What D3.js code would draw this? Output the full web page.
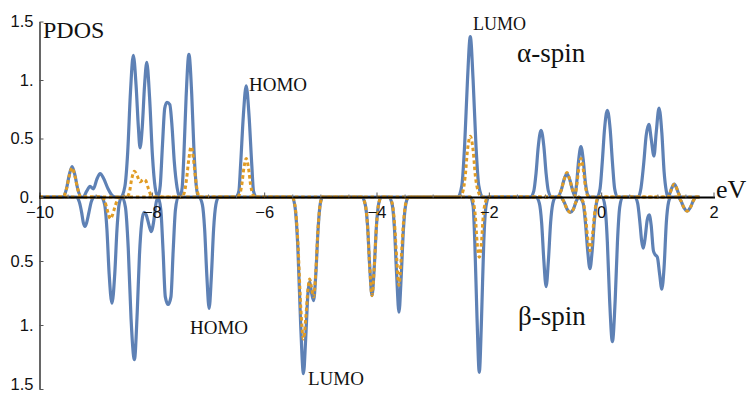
<!DOCTYPE html>
<html><head><meta charset="utf-8">
<script src="https://cdn.jsdelivr.net/npm/d3@7"></script>
<style>body{margin:0;background:#fff}svg{display:block}</style>
</head><body><svg id="c" width="747" height="396"></svg>
<script>
// energies (eV) vs PDOS
const alphaTotal = [[-10,0],[-9.62,0],[-9.58,0],[-9.52,0.07],[-9.47,0.19],[-9.42,0.26],[-9.37,0.19],[-9.32,0.07],[-9.26,0],
[-9.22,0],[-9.16,0.05],[-9.10,0.09],[-9.04,0.07],[-8.98,0.15],[-8.92,0.2],[-8.86,0.16],[-8.78,0.07],[-8.70,0.01],[-8.64,0],
[-8.55,0],[-8.48,0.09],[-8.43,0.38],[-8.38,0.9],[-8.33,1.21],[-8.28,0.95],[-8.24,0.6],[-8.21,0.42],[-8.17,0.6],[-8.13,0.95],[-8.09,1.15],[-8.04,0.85],[-7.99,0.36],[-7.94,0.08],[-7.89,0],
[-7.85,0.1],[-7.81,0.45],[-7.77,0.76],[-7.73,0.81],[-7.68,0.79],[-7.64,0.6],[-7.60,0.3],[-7.55,0.08],[-7.50,0],
[-7.46,0.08],[-7.43,0.35],[-7.39,0.85],[-7.34,1.22],[-7.29,0.88],[-7.25,0.4],[-7.21,0.1],[-7.17,0],
[-6.50,0],[-6.45,0.05],[-6.42,0.27],[-6.37,0.7],[-6.32,0.95],[-6.27,0.7],[-6.22,0.27],[-6.19,0.05],[-6.14,0],
[-2.55,0],[-2.48,0.1],[-2.43,0.45],[-2.38,1.0],[-2.33,1.37],[-2.28,1.0],[-2.23,0.45],[-2.18,0.1],[-2.11,0],
[-1.26,0],[-1.20,0.05],[-1.16,0.2],[-1.12,0.43],[-1.07,0.57],[-1.02,0.43],[-0.98,0.2],[-0.94,0.05],[-0.88,0],
[-0.78,0],[-0.71,0.06],[-0.66,0.15],[-0.61,0.2],[-0.56,0.15],[-0.51,0.06],[-0.47,0.01],
[-0.44,0.1],[-0.40,0.32],[-0.36,0.43],[-0.32,0.32],[-0.28,0.12],[-0.24,0.02],[-0.20,0],
[-0.07,0],[-0.02,0.07],[0.02,0.3],[0.06,0.58],[0.11,0.74],[0.16,0.58],[0.20,0.3],[0.24,0.07],[0.29,0],
[0.66,0],[0.71,0.08],[0.76,0.3],[0.80,0.52],[0.85,0.62],[0.89,0.5],[0.94,0.35],[0.98,0.55],[1.03,0.76],[1.08,0.55],[1.12,0.22],[1.16,0.05],[1.19,0],
[1.23,0.04],[1.26,0.08],[1.30,0.11],[1.34,0.08],[1.37,0.04],[1.42,0],[1.75,0]];

const alphaPartial = [[-10,0],[-9.62,0],[-9.58,0],[-9.52,0.07],[-9.47,0.18],[-9.42,0.25],[-9.37,0.18],[-9.32,0.07],[-9.26,0],
[-8.45,0],[-8.40,0.04],[-8.36,0.15],[-8.31,0.22],[-8.26,0.18],[-8.21,0.13],[-8.15,0.15],[-8.11,0.14],[-8.06,0.07],[-8.01,0.01],[-7.97,0],
[-7.47,0],[-7.42,0.04],[-7.38,0.16],[-7.34,0.33],[-7.30,0.43],[-7.26,0.33],[-7.22,0.15],[-7.18,0.03],[-7.14,0],
[-6.48,0],[-6.43,0.03],[-6.40,0.1],[-6.36,0.25],[-6.32,0.33],[-6.28,0.25],[-6.24,0.1],[-6.20,0.02],[-6.16,0],
[-2.52,0],[-2.46,0.05],[-2.42,0.18],[-2.38,0.4],[-2.33,0.52],[-2.28,0.4],[-2.24,0.18],[-2.19,0.05],[-2.13,0],
[-0.78,0],[-0.71,0.06],[-0.66,0.15],[-0.61,0.21],[-0.56,0.15],[-0.51,0.06],[-0.47,0.01],
[-0.44,0.08],[-0.40,0.24],[-0.36,0.33],[-0.32,0.24],[-0.28,0.09],[-0.24,0.01],[-0.20,0],
[1.19,0],[1.23,0.04],[1.26,0.08],[1.30,0.11],[1.34,0.08],[1.37,0.04],[1.42,0],[1.75,0]];

const betaTotal = [[-10,0],[-9.34,0],[-9.29,0.04],[-9.25,0.12],[-9.22,0.2],[-9.19,0.23],[-9.16,0.2],[-9.12,0.12],[-9.08,0.04],[-9.03,0],
[-8.90,0],[-8.84,0.06],[-8.80,0.25],[-8.76,0.6],[-8.71,0.83],[-8.66,0.6],[-8.62,0.25],[-8.58,0.05],[-8.53,0],
[-8.47,0.08],[-8.42,0.4],[-8.37,0.95],[-8.31,1.27],[-8.26,0.9],[-8.22,0.45],[-8.18,0.2],[-8.14,0.12],[-8.10,0.14],[-8.05,0.22],[-8.01,0.27],[-7.97,0.2],[-7.93,0.06],[-7.89,0],
[-7.84,0.1],[-7.80,0.42],[-7.76,0.78],[-7.71,0.84],[-7.66,0.78],[-7.62,0.42],[-7.58,0.1],[-7.53,0],
[-7.16,0],[-7.10,0.06],[-7.06,0.25],[-7.02,0.62],[-6.98,0.87],[-6.94,0.62],[-6.90,0.25],[-6.86,0.06],[-6.81,0],
[-5.50,0],[-5.45,0.08],[-5.40,0.4],[-5.35,1.0],[-5.30,1.38],[-5.26,1.1],[-5.22,0.75],[-5.19,0.66],[-5.16,0.74],[-5.12,0.81],[-5.08,0.6],[-5.04,0.25],[-5.00,0.05],[-4.96,0],
[-4.26,0],[-4.20,0.06],[-4.16,0.22],[-4.12,0.55],[-4.08,0.77],[-4.04,0.55],[-4.00,0.22],[-3.96,0.05],[-3.91,0],
[-3.78,0],[-3.72,0.06],[-3.68,0.25],[-3.64,0.62],[-3.60,0.9],[-3.56,0.62],[-3.52,0.25],[-3.48,0.06],[-3.43,0],
[-2.33,0],[-2.28,0.07],[-2.25,0.35],[-2.21,0.95],[-2.17,1.37],[-2.13,0.95],[-2.09,0.35],[-2.05,0.07],[-2.00,0],
[-1.16,0],[-1.10,0.05],[-1.06,0.2],[-1.02,0.5],[-0.98,0.70],[-0.94,0.5],[-0.90,0.2],[-0.86,0.05],[-0.81,0],
[-0.72,0],[-0.66,0.04],[-0.60,0.1],[-0.55,0.12],[-0.50,0.1],[-0.45,0.04],[-0.40,0],
[-0.37,0.01],[-0.32,0.05],[-0.28,0.2],[-0.24,0.42],[-0.20,0.56],[-0.16,0.42],[-0.12,0.18],[-0.08,0.04],[-0.04,0],
[0.02,0],[0.07,0.08],[0.11,0.35],[0.15,0.8],[0.20,1.13],[0.25,0.8],[0.29,0.35],[0.33,0.08],[0.38,0],
[0.60,0],[0.65,0.05],[0.69,0.2],[0.72,0.34],[0.75,0.40],[0.78,0.33],[0.82,0.18],[0.855,0.14],[0.89,0.22],[0.93,0.42],[0.96,0.45],[1.00,0.47],[1.04,0.6],[1.08,0.72],[1.12,0.55],[1.16,0.2],[1.20,0.04],[1.24,0],
[1.36,0],[1.42,0.03],[1.47,0.08],[1.53,0.11],[1.59,0.08],[1.64,0.03],[1.69,0],[1.75,0]];

const betaPartial = [[-10,0],[-8.90,0],[-8.84,0.03],[-8.80,0.09],[-8.77,0.14],[-8.74,0.17],[-8.70,0.14],[-8.66,0.08],[-8.61,0.02],[-8.56,0],
[-5.50,0],[-5.45,0.07],[-5.40,0.35],[-5.35,0.85],[-5.30,1.11],[-5.26,0.95],[-5.22,0.72],[-5.19,0.64],[-5.16,0.70],[-5.12,0.78],[-5.08,0.58],[-5.04,0.24],[-5.00,0.05],[-4.96,0],
[-4.26,0],[-4.20,0.06],[-4.16,0.22],[-4.12,0.55],[-4.08,0.77],[-4.04,0.55],[-4.00,0.22],[-3.96,0.05],[-3.91,0],
[-3.78,0],[-3.72,0.05],[-3.68,0.2],[-3.64,0.48],[-3.60,0.69],[-3.56,0.48],[-3.52,0.2],[-3.48,0.05],[-3.43,0],
[-2.31,0],[-2.27,0.05],[-2.24,0.15],[-2.21,0.35],[-2.17,0.47],[-2.13,0.35],[-2.10,0.15],[-2.06,0.04],[-2.02,0],
[-0.72,0],[-0.66,0.04],[-0.60,0.1],[-0.55,0.12],[-0.50,0.1],[-0.45,0.04],[-0.40,0],
[-0.37,0.01],[-0.32,0.04],[-0.28,0.15],[-0.24,0.32],[-0.20,0.42],[-0.16,0.32],[-0.12,0.14],[-0.08,0.03],[-0.04,0],
[1.36,0],[1.42,0.03],[1.47,0.08],[1.53,0.11],[1.59,0.08],[1.64,0.03],[1.69,0],[1.75,0]];

const xTicks = [-10,-8,-6,-4,-2,0,2];
const xMinorTicks = [-9.5,-9,-8.5,-7.5,-7,-6.5,-5.5,-5,-4.5,-3.5,-3,-2.5,-1.5,-1,-0.5,0.5,1,1.5];
const yTicksAlpha = [0,0.5,1,1.5];
const yTicksBeta = [0.5,1,1.5];
const yTickLabel = v => ({0:"0.",0.5:"0.5",1:"1.",1.5:"1.5"})[v];

const BLUE = "#5e81b5", ORANGE = "#e19c24";
const svg = d3.select("#c");
svg.append("rect").attr("width",747).attr("height",396).attr("fill","#fff");

const x = d3.scaleLinear().domain([-10,2]).range([39.5,713.5]);
const yA = d3.scaleLinear().domain([0,1.5]).range([197,21.5]);
const yB = d3.scaleLinear().domain([0,1.5]).range([197,389]);

const lineA = d3.line().x(d=>x(d[0])).y(d=>yA(d[1])).curve(d3.curveMonotoneX);
const lineB = d3.line().x(d=>x(d[0])).y(d=>yB(d[1])).curve(d3.curveMonotoneX);

const g = svg.append("g");
g.append("path").datum(alphaTotal).attr("d",lineA).attr("fill","none").attr("stroke",BLUE).attr("stroke-width",3.2).attr("stroke-linejoin","round");
g.append("path").datum(betaTotal).attr("d",lineB).attr("fill","none").attr("stroke",BLUE).attr("stroke-width",3.2).attr("stroke-linejoin","round");
g.append("path").datum(alphaPartial).attr("d",lineA).attr("fill","none").attr("stroke",ORANGE).attr("stroke-width",3).attr("stroke-dasharray","3.5,2.8");
g.append("path").datum(betaPartial).attr("d",lineB).attr("fill","none").attr("stroke",ORANGE).attr("stroke-width",3).attr("stroke-dasharray","3.5,2.8");

const tickFont = "'Liberation Sans', Arial, sans-serif";
// x axis
const xAxis = d3.axisBottom(x).tickValues(xTicks).tickSizeInner(-5).tickSizeOuter(0).tickPadding(9)
  .tickFormat(d => d < 0 ? "\u2212" + Math.abs(d) : String(d));
const gx = svg.append("g").attr("transform","translate(0,197.5)").call(xAxis);
gx.select(".domain").attr("stroke","#000").attr("stroke-width",1.8).attr("d","M39.5,0H715");
gx.selectAll(".tick line").attr("stroke","#555");
gx.selectAll("text").attr("font-family",tickFont).attr("font-size",16.5).attr("fill","#111");
const gxm = svg.append("g").attr("transform","translate(0,197.5)")
  .call(d3.axisBottom(x).tickValues(xMinorTicks).tickSizeInner(-3).tickSizeOuter(0).tickFormat(""));
gxm.select(".domain").remove();
gxm.selectAll(".tick line").attr("stroke","#777");

// y axes
const yAxisA = d3.axisLeft(yA).tickValues(yTicksAlpha).tickSizeInner(-4).tickSizeOuter(0).tickPadding(6).tickFormat(yTickLabel);
const gyA = svg.append("g").attr("transform","translate(39.5,0)").call(yAxisA);
const yAxisB = d3.axisLeft(yB).tickValues(yTicksBeta).tickSizeInner(-4).tickSizeOuter(0).tickPadding(6).tickFormat(yTickLabel);
const gyB = svg.append("g").attr("transform","translate(39.5,0)").call(yAxisB);
[gyA,gyB].forEach(gy=>{
  gy.select(".domain").attr("stroke","#000").attr("stroke-width",1.2);
  gy.selectAll(".tick line").attr("stroke","#555");
  gy.selectAll("text").attr("font-family",tickFont).attr("font-size",16.5).attr("fill","#111");
});
// keep the lowest label inside the picture
gyB.selectAll(".tick text").filter(d=>d===1.5).attr("dy","0.05em");

// annotations
const serif = "'Liberation Serif', 'Times New Roman', serif";
const ann = [
  {t:"PDOS", x:43, y:38, s:24},
  {t:"HOMO", x:249, y:91, s:19},
  {t:"LUMO", x:473, y:30, s:18},
  {t:"\u03b1-spin", x:517, y:62, s:27},
  {t:"HOMO", x:190, y:334, s:19},
  {t:"LUMO", x:308, y:385, s:19},
  {t:"\u03b2-spin", x:518, y:325, s:27},
  {t:"eV", x:716, y:198, s:26}
];
svg.append("g").selectAll("text").data(ann).join("text")
  .attr("x",d=>d.x).attr("y",d=>d.y).attr("font-size",d=>d.s)
  .attr("font-family",serif).attr("fill","#111").text(d=>d.t);
</script></body></html>
